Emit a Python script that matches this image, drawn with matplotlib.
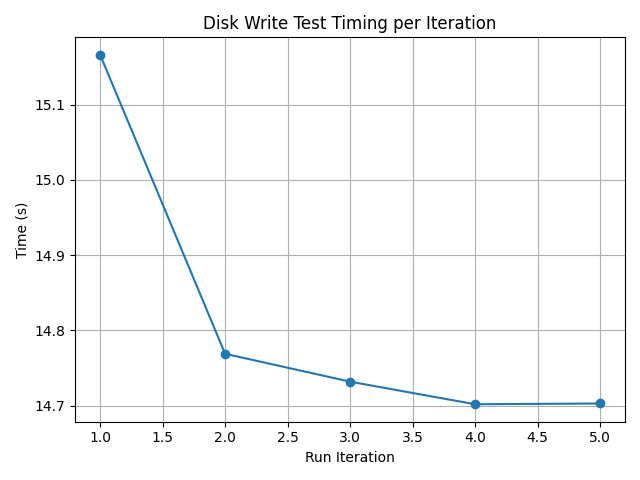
import matplotlib
matplotlib.use("Agg")
import matplotlib.pyplot as plt

iterations = [1, 2, 3, 4, 5]
times = [15.166, 14.769, 14.732, 14.702, 14.703]

fig, ax = plt.subplots(figsize=(6.4, 4.8))
ax.plot(iterations, times, marker="o")
ax.set_xlabel("Run Iteration")
ax.set_ylabel("Time (s)")
ax.set_title("Disk Write Test Timing per Iteration")
ax.grid(True)
plt.tight_layout()
plt.savefig("out.png", dpi=100)
